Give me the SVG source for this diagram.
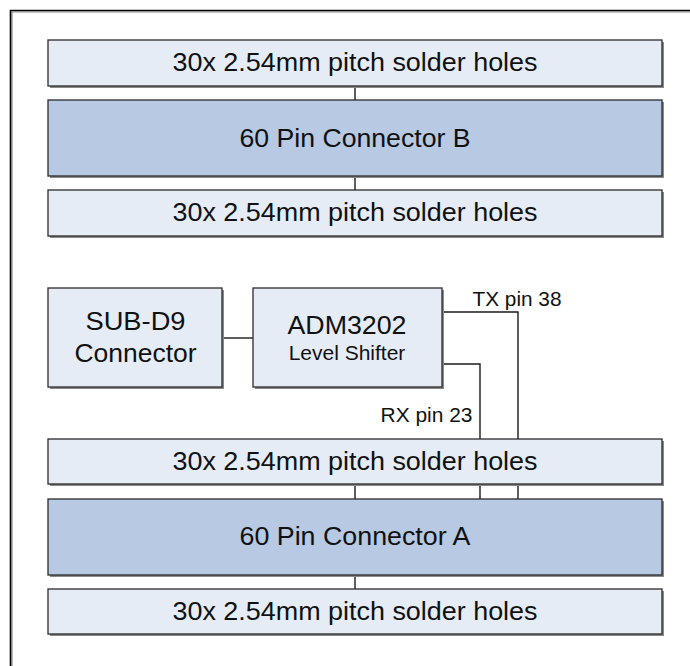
<svg xmlns="http://www.w3.org/2000/svg" width="690" height="666" viewBox="0 0 690 666">
<style>
.light{fill:#E5ECF6;stroke:#2b2b2b;stroke-width:1.3}
.dark{fill:#B7C9E3;stroke:#2b2b2b;stroke-width:1.3}
.shadow{fill:#8a8a8a}
.big{font-family:"Liberation Sans",Arial,sans-serif;font-size:25.5px;fill:#111;text-anchor:middle}
.small{font-family:"Liberation Sans",Arial,sans-serif;font-size:21px;fill:#111}
.wire{fill:none;stroke:#1a1a1a;stroke-width:1.4}
</style>
<rect x="0" y="0" width="690" height="666" fill="#ffffff"/>
<g id="frame">
<path d="M12 700 V12 H700" fill="none" stroke="#8a8a8a" stroke-width="1.2"/>
<path d="M10.5 700 V10.5 H700" fill="none" stroke="#000" stroke-width="1.6"/>
</g>
<g id="connectors">
<path class="wire" d="M355 86 V100"/>
<path class="wire" d="M355 176 V190"/>
<path class="wire" d="M355 484 V499"/>
<path class="wire" d="M355 575 V589"/>
<path class="wire" d="M222 338 H253"/>
<path class="wire" d="M442 312 H518 V439"/>
<path class="wire" d="M518 484 V499"/>
<path class="wire" d="M442 364 H480 V439"/>
<path class="wire" d="M480 484 V499"/>
</g>
<g id="solderB1">
<rect class="shadow" x="50" y="42" width="614" height="46"/>
<rect class="light" x="48" y="40" width="614" height="46"/>
<text class="big" x="355" y="70.5" textLength="365" lengthAdjust="spacingAndGlyphs">30x 2.54mm pitch solder holes</text>
</g>
<g id="connectorB">
<rect class="shadow" x="50" y="102" width="614" height="76"/>
<rect class="dark" x="48" y="100" width="614" height="76"/>
<text class="big" x="355" y="146.5" textLength="231" lengthAdjust="spacingAndGlyphs">60 Pin Connector B</text>
</g>
<g id="solderB2">
<rect class="shadow" x="50" y="192" width="614" height="46"/>
<rect class="light" x="48" y="190" width="614" height="46"/>
<text class="big" x="355" y="221" textLength="365" lengthAdjust="spacingAndGlyphs">30x 2.54mm pitch solder holes</text>
</g>
<g id="subd9">
<rect class="shadow" x="50" y="290" width="174" height="99"/>
<rect class="light" x="48" y="288" width="174" height="99"/>
<text class="big" x="135.5" y="329.5" textLength="100" lengthAdjust="spacingAndGlyphs">SUB-D9</text>
<text class="big" x="135.5" y="362" textLength="122" lengthAdjust="spacingAndGlyphs">Connector</text>
</g>
<g id="adm3202">
<rect class="shadow" x="255" y="290" width="189" height="99"/>
<rect class="light" x="253" y="288" width="189" height="99"/>
<text class="big" x="347" y="333.5" textLength="119" lengthAdjust="spacingAndGlyphs">ADM3202</text>
<text class="small" x="347" y="360" text-anchor="middle">Level Shifter</text>
</g>
<g id="labels">
<text class="small" x="472.5" y="306" textLength="89" lengthAdjust="spacingAndGlyphs">TX pin 38</text>
<text class="small" x="380.5" y="421.5" textLength="92" lengthAdjust="spacingAndGlyphs">RX pin 23</text>
</g>
<g id="solderA1">
<rect class="shadow" x="50" y="441" width="614" height="45"/>
<rect class="light" x="48" y="439" width="614" height="45"/>
<text class="big" x="355" y="469.5" textLength="365" lengthAdjust="spacingAndGlyphs">30x 2.54mm pitch solder holes</text>
</g>
<g id="connectorA">
<rect class="shadow" x="50" y="501" width="614" height="76"/>
<rect class="dark" x="48" y="499" width="614" height="76"/>
<text class="big" x="355" y="545" textLength="231" lengthAdjust="spacingAndGlyphs">60 Pin Connector A</text>
</g>
<g id="solderA2">
<rect class="shadow" x="50" y="591" width="614" height="45"/>
<rect class="light" x="48" y="589" width="614" height="45"/>
<text class="big" x="355" y="619.5" textLength="365" lengthAdjust="spacingAndGlyphs">30x 2.54mm pitch solder holes</text>
</g>
</svg>
